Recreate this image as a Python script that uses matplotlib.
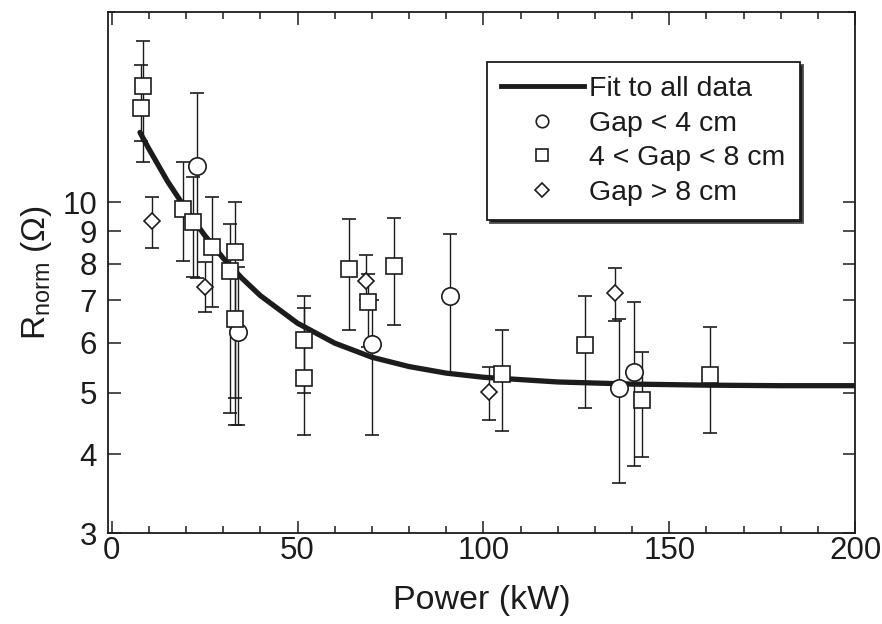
import numpy as np
import matplotlib
matplotlib.use('Agg')
from matplotlib import pyplot as plt
from matplotlib.lines import Line2D
from matplotlib.ticker import FixedLocator, NullFormatter, FixedFormatter

plt.rcParams['font.family'] = ['Liberation Sans', 'DejaVu Sans']
plt.rcParams['mathtext.fontset'] = 'custom'
plt.rcParams['mathtext.rm'] = 'Liberation Sans'

# Gap < 4 cm  (circles): power, R, lower and upper error bar ends
c_x = [23.0, 34.0, 70.1, 90.9, 136.5, 140.5]
c_y = [11.4, 6.24, 5.98, 7.12, 5.09, 5.40]
c_lo = [7.6, 4.45, 4.29, 5.35, 3.60, 3.83]
c_hi = [14.9, 7.9, 7.0, 8.9, 6.55, 6.97]

# 4 < Gap < 8 cm  (squares)
s_x = [7.8, 8.4, 19.2, 21.9, 27.0, 31.9, 33.2, 33.2, 51.6, 51.6,
       63.8, 69.0, 76.0, 104.9, 127.3, 142.7, 161.0]
s_y = [14.1, 15.3, 9.75, 9.30, 8.49, 7.78, 8.36, 6.53, 6.06, 5.28,
       7.85, 6.97, 7.92, 5.36, 5.94, 4.87, 5.34]
s_lo = [12.5, 11.6, 8.07, 7.61, 6.82, 4.65, 4.45, 4.9, 4.29, 5.0,
        6.29, 5.9, 6.39, 4.35, 4.73, 3.96, 4.32]
s_hi = [16.5, 18.0, 11.6, 10.96, 10.2, 9.23, 10.0, 7.6, 7.1, 6.8,
        9.4, 7.7, 9.45, 6.29, 7.1, 5.79, 6.36]

# Gap > 8 cm  (diamonds)
d_x = [10.8, 25.1, 68.4, 101.6, 135.4]
d_y = [9.33, 7.36, 7.5, 5.02, 7.2]
d_lo = [8.46, 6.70, 7.0, 4.53, 6.5]
d_hi = [10.2, 8.06, 8.27, 5.5, 7.88]

# fit to all data
fit_x = [7.6, 10, 15, 20, 25, 30, 35, 40, 50, 60, 70, 80, 90, 100, 120, 140, 160, 180, 200]
fit_y = [12.9, 12.15, 10.8, 9.75, 8.87, 8.16, 7.59, 7.12, 6.44, 5.99, 5.69,
         5.50, 5.37, 5.29, 5.20, 5.16, 5.14, 5.13, 5.13]

ink = '#1c1c1c'

fig = plt.figure(figsize=(8.82, 6.24), dpi=100)
ax = fig.add_axes([0.1225, 0.1458, 0.8469, 0.8349])


def errs(y, lo, hi):
    y = np.array(y)
    return [y - np.array(lo), np.array(hi) - y]


ax.plot(fit_x, fit_y, color=ink, lw=3.8, solid_capstyle='round', zorder=3)

kw = dict(ls='none', mfc='white', mec=ink, ecolor=ink, elinewidth=1.0,
          capsize=5, capthick=1.0, mew=1.2, zorder=4)
ax.errorbar(c_x, c_y, yerr=errs(c_y, c_lo, c_hi), fmt='o', ms=12.5, **kw)
ax.errorbar(s_x, s_y, yerr=errs(s_y, s_lo, s_hi), fmt='s', ms=11.5, **kw)
ax.errorbar(d_x, d_y, yerr=errs(d_y, d_lo, d_hi), fmt='D', ms=8, **kw)

ax.set_yscale('log')
ax.set_xlim(-1, 200)
ax.set_ylim(3, 20)

ax.xaxis.set_major_locator(FixedLocator([0, 50, 100, 150, 200]))
ax.xaxis.set_minor_locator(FixedLocator(np.arange(10, 200, 10)))
yt = [3, 4, 5, 6, 7, 8, 9, 10]
ax.yaxis.set_major_locator(FixedLocator(yt))
ax.yaxis.set_major_formatter(FixedFormatter([str(v) for v in yt]))
ax.yaxis.set_minor_locator(FixedLocator([20]))
ax.yaxis.set_minor_formatter(NullFormatter())

ax.tick_params(which='both', direction='in', top=True, right=True,
               labelsize=22.5, colors=ink, width=1.1)
ax.tick_params(which='major', length=9)
ax.tick_params(axis='x', which='major', pad=2)
ax.tick_params(axis='y', which='major', pad=8)
ax.tick_params(which='minor', length=5)
for sp in ax.spines.values():
    sp.set_linewidth(1.3)
    sp.set_color(ink)

ax.set_xlabel('Power (kW)', fontsize=24.5, color=ink, labelpad=14)
ax.set_ylabel(r'R$_{\mathrm{norm}}$ (Ω)', fontsize=24, color=ink, labelpad=6)

handles = [
    Line2D([], [], color=ink, lw=3.5),
    Line2D([], [], ls='none', marker='o', ms=9, mfc='white', mec=ink, mew=1.2),
    Line2D([], [], ls='none', marker='s', ms=9, mfc='white', mec=ink, mew=1.2),
    Line2D([], [], ls='none', marker='D', ms=7, mfc='white', mec=ink, mew=1.2),
]
labels = ['Fit to all data', 'Gap < 4 cm', '4 < Gap < 8 cm', 'Gap > 8 cm']
leg = ax.legend(handles, labels, loc='upper right', bbox_to_anchor=(0.926, 0.904),
                fontsize=20.5, frameon=True, fancybox=False, handlelength=2.9,
                labelspacing=0.3, borderpad=0.5, handletextpad=0.2,
                borderaxespad=0, shadow={'facecolor': ink, 'alpha': 1})
leg.get_frame().set_edgecolor(ink)
leg.get_frame().set_linewidth(1.3)
for t in leg.get_texts():
    t.set_color(ink)

fig.savefig('out.png', dpi=100)
